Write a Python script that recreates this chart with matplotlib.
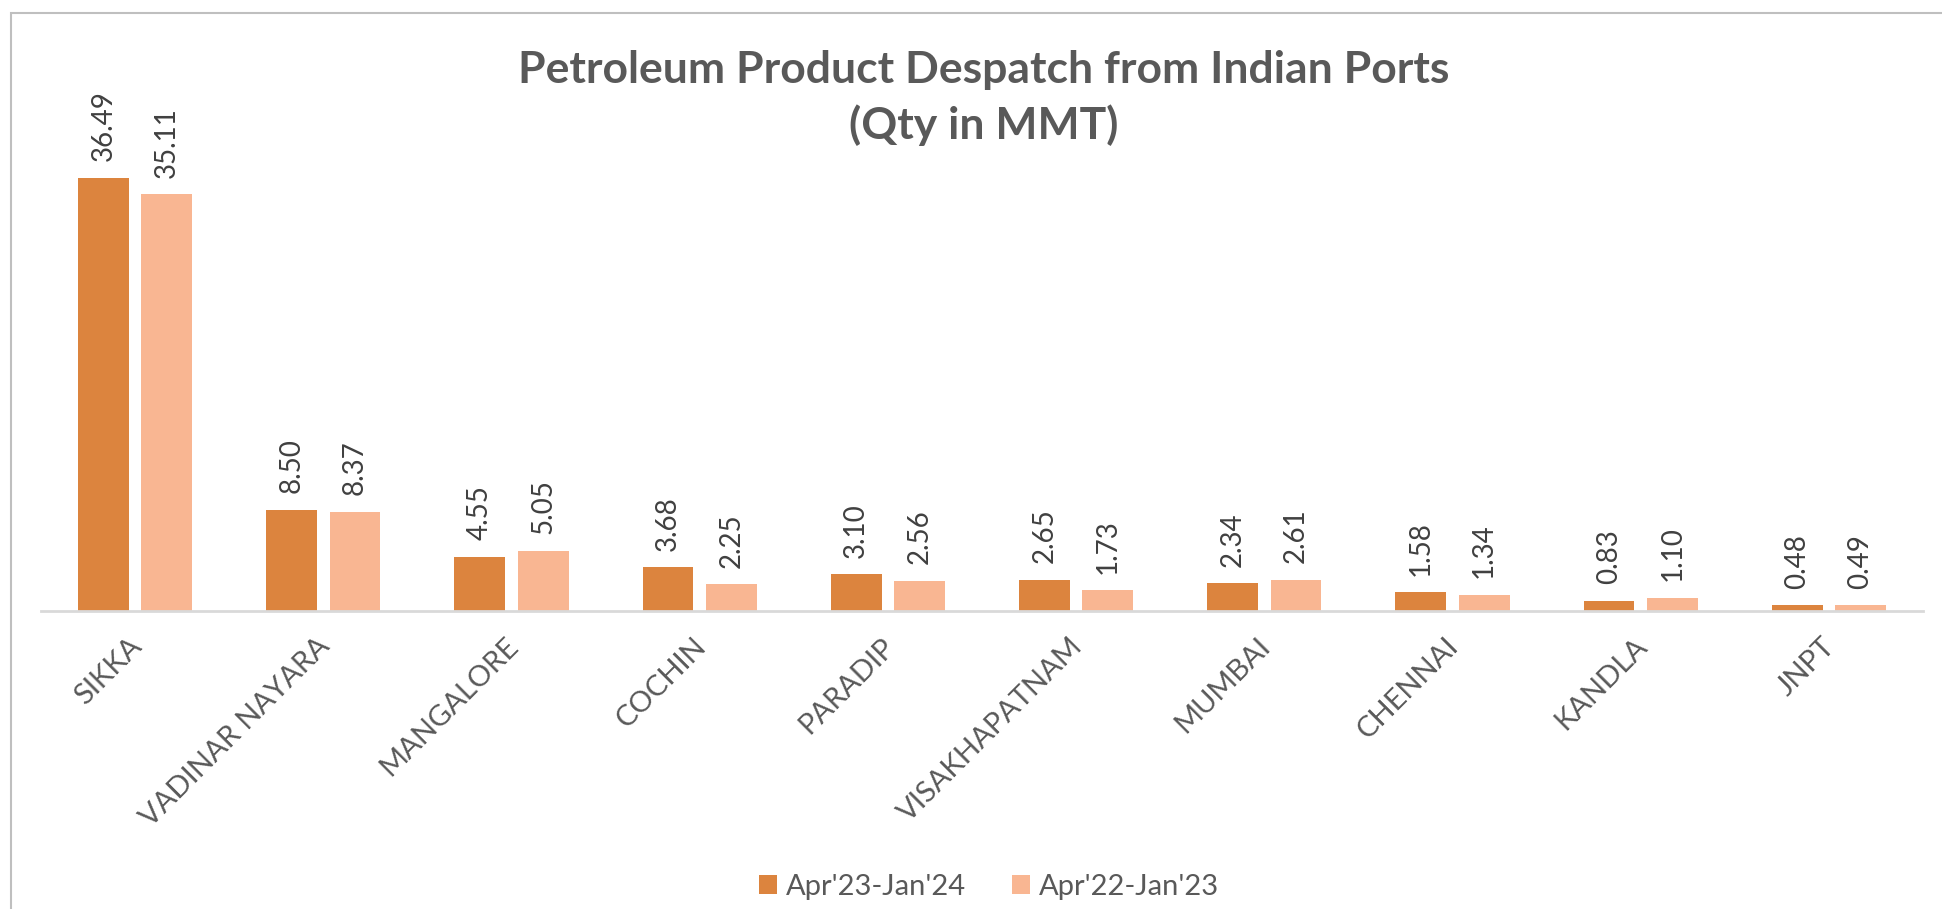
import matplotlib.pyplot as plt
import matplotlib.transforms as mtransforms
import numpy as np
from matplotlib.patches import Rectangle

ports = ['SIKKA', 'VADINAR NAYARA', 'MANGALORE', 'COCHIN', 'PARADIP',
         'VISAKHAPATNAM', 'MUMBAI', 'CHENNAI', 'KANDLA', 'JNPT']
qty_2324 = [36.49, 8.50, 4.55, 3.68, 3.10, 2.65, 2.34, 1.58, 0.83, 0.48]
qty_2223 = [35.11, 8.37, 5.05, 2.25, 2.56, 1.73, 2.61, 1.34, 1.10, 0.49]
series_names = ["Apr'23-Jan'24", "Apr'22-Jan'23"]

c_dark = '#DC843E'
c_light = '#F9B692'
txt_grey = '#595959'

fig = plt.figure(figsize=(19.42, 9.09), dpi=100)
ax = fig.add_axes([41 / 1942, 1 - 611 / 909, 1882 / 1942, 474.6 / 909])

# chart frame (only left/top edges visible in the original)
fig.patches.append(Rectangle((11 / 1942, -0.1), 1.2, 1 - 13 / 909 + 0.1,
                             transform=fig.transFigure, fill=False,
                             edgecolor='#BFBFBF', linewidth=1.5))

x = np.arange(len(ports))
w = 0.27
off = 0.168
b1 = ax.bar(x - off, qty_2324, w, color=c_dark, label=series_names[0])
b2 = ax.bar(x + off, qty_2223, w, color=c_light, label=series_names[1])

for bars in (b1, b2):
    for rect in bars:
        h = rect.get_height()
        ax.annotate('%.2f' % h, (rect.get_x() + rect.get_width() / 2, h),
                    xytext=(0, 12), textcoords='offset points',
                    rotation=90, ha='center', va='bottom',
                    fontsize=20, family='Lato', color='#404040')

ax.set_xlim(-0.5, len(ports) - 0.5)
ax.set_ylim(0, 40)
for s in ['top', 'right', 'left']:
    ax.spines[s].set_visible(False)
ax.spines['bottom'].set_color('#D9D9D9')
ax.spines['bottom'].set_linewidth(2)
ax.set_yticks([])
ax.set_xticks(x)
ax.set_xticklabels(ports, rotation=45, ha='right', va='top',
                   rotation_mode='anchor', fontsize=21, family='Lato',
                   color=txt_grey)
ax.tick_params(axis='x', length=0, pad=16)
for lab in ax.get_xticklabels():
    lab.set_transform(lab.get_transform() +
                      mtransforms.ScaledTranslation(-7 / 100, 0, fig.dpi_scale_trans))

fig.text(0.5067, 1 - 98 / 909, 'Petroleum Product Despatch from Indian Ports\n(Qty in MMT)',
         ha='center', va='center', fontsize=32, fontweight='bold',
         family='Lato', color=txt_grey, linespacing=1.43)

fig.legend(loc='center', bbox_to_anchor=(989 / 1942, 1 - 887 / 909), ncol=2,
           frameon=False, prop={'family': 'Lato', 'size': 21},
           labelcolor=txt_grey, handlelength=0.62, handleheight=0.62,
           handletextpad=0.3, columnspacing=1.6)

fig.savefig('out.png', dpi=100)
